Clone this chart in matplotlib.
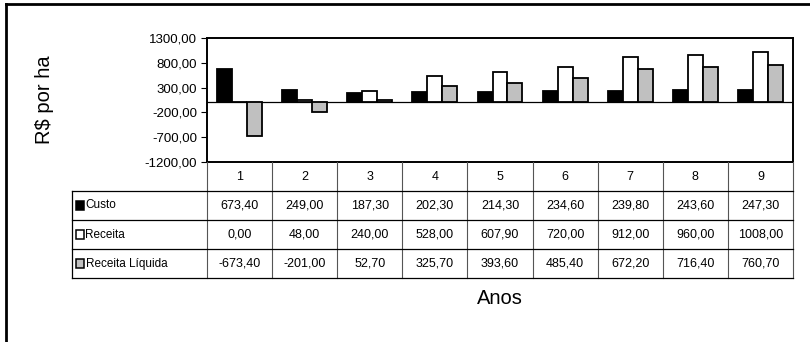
import matplotlib
matplotlib.use("Agg")
import matplotlib.pyplot as plt
from matplotlib.lines import Line2D
from matplotlib.patches import Rectangle

plt.rcParams['font.family'] = ['Liberation Sans', 'DejaVu Sans']

anos = [1, 2, 3, 4, 5, 6, 7, 8, 9]
custo = [673.40, 249.00, 187.30, 202.30, 214.30, 234.60, 239.80, 243.60, 247.30]
receita = [0.00, 48.00, 240.00, 528.00, 607.90, 720.00, 912.00, 960.00, 1008.00]
liquida = [-673.40, -201.00, 52.70, 325.70, 393.60, 485.40, 672.20, 716.40, 760.70]
series_names = ["Custo", "Receita", "Receita Líquida"]
yticks = [1300, 800, 300, -200, -700, -1200]

colors = ["black", "white", "#c0c0c0"]
edges = ["black", "black", "black"]

def fmt(v):
    return f"{v:.2f}".replace(".", ",")

W, H = 810, 342
fig = plt.figure(figsize=(W / 100, H / 100), dpi=100)

# pixel layout of plot area and data table
px_l, px_r, px_t, px_b = 207, 793, 38, 162
tab_l, tab_b = 72, 278

ax = fig.add_axes([px_l / W, 1 - px_b / H, (px_r - px_l) / W, (px_b - px_t) / H])
w = 0.23
for k, vals in enumerate([custo, receita, liquida]):
    xs = [a + (k - 1) * w for a in anos]
    ax.bar(xs, vals, width=w, color=colors[k], edgecolor=edges[k], linewidth=1.3, zorder=3)
ax.axhline(0, color="black", lw=0.9, zorder=2)
ax.set_xlim(0.5, 9.5)
ax.set_ylim(-1200, 1300)
ax.set_yticks(yticks)
ax.set_yticklabels([fmt(v) for v in yticks], fontsize=9.5)
ax.set_xticks([])
ax.tick_params(axis="y", direction="out", length=4, width=0.8, pad=3)
for s in ax.spines.values():
    s.set_linewidth(1.4)

# data table under the plot
px_per = (px_r - px_l) / 9
x0 = 0.5 - (px_l - tab_l) / px_per
tab = fig.add_axes([tab_l / W, 1 - tab_b / H, (px_r - tab_l) / W, (tab_b - px_b) / H])
tab.set_xlim(x0, 9.5)
tab.set_ylim(4, 0)
tab.axis("off")
for k in range(10):
    tab.plot([0.5 + k, 0.5 + k], [0, 4], color="#555555", lw=0.8, clip_on=False)
tab.plot([x0, x0], [1, 4], color="black", lw=0.9, clip_on=False)
for r in [1, 2, 3, 4]:
    tab.plot([x0, 9.5], [r, r], color="black", lw=0.9, clip_on=False)
for a in anos:
    tab.text(a, 0.5, str(a), ha="center", va="center", fontsize=9)
for r, vals in enumerate([custo, receita, liquida]):
    for a, v in zip(anos, vals):
        tab.text(a, r + 1.5, fmt(v), ha="center", va="center", fontsize=9)
    sq = 8 / px_per
    tab.add_patch(Rectangle((x0 + 3.5 / px_per, r + 1.5 - 0.14), sq, 0.28,
                            facecolor=colors[r], edgecolor="black", lw=1.1, clip_on=False))
    tab.text(x0 + 13.5 / px_per, r + 1.5, series_names[r], ha="left", va="center", fontsize=8.5)

fig.text(45 / W, 1 - 100 / H, "R$ por ha", rotation=90, ha="center", va="center", fontsize=14.5)
fig.text(500 / W, 1 - 298 / H, "Anos", ha="center", va="center", fontsize=14.5)

# chart outer frame
fig.add_artist(Line2D([6 / W, 1], [1 - 4 / H, 1 - 4 / H], color="black", lw=2))
fig.add_artist(Line2D([6 / W, 6 / W], [0, 1 - 4 / H], color="black", lw=2))

fig.savefig("out.png", dpi=100)
